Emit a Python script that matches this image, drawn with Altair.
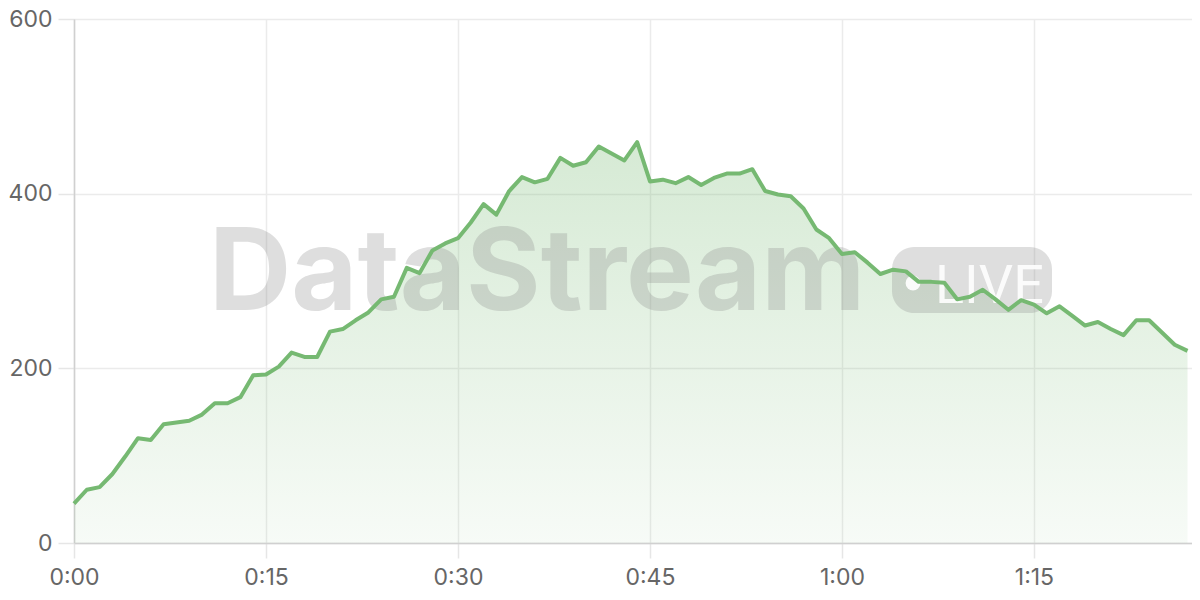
import altair as alt
import pandas as pd

minutes = list(range(88))
values = [45, 61, 64, 79, 99, 120, 118, 136, 138, 140,
          147, 160, 160, 167, 192, 193, 202, 218, 213, 213,
          242, 245, 255, 264, 279, 282, 315, 309, 335, 343,
          349, 367, 388, 376, 403, 419, 413, 417, 441, 432,
          436, 454, 446, 438, 459, 414, 416, 412, 419, 410,
          418, 423, 423, 428, 403, 399, 397, 383, 359, 349,
          331, 333, 321, 308, 313, 311, 299, 299, 298, 279,
          282, 290, 279, 267, 278, 273, 263, 271, 260, 249,
          253, 245, 238, 255, 255, 241, 227, 220]
x_ticks = [0, 15, 30, 45, 60, 75]
y_ticks = [0, 200, 400, 600]
watermark = "DataStream"
badge = "LIVE"

df = pd.DataFrame({"minute": minutes, "value": values})

FONT = "Inter"
GREEN = "#76b972"

x = alt.X("minute:Q", scale=alt.Scale(domain=[0, 87.35], nice=False, zero=False),
          axis=alt.Axis(values=x_ticks, title=None,
                        labelExpr="floor(datum.value/60) + ':' + (datum.value%60 < 10 ? '0' : '') + (datum.value%60)",
                        labelFont=FONT, labelFontSize=23, labelColor="#666666",
                        labelFlush=False, labelOverlap=False,
                        labelPadding=8, tickSize=15, tickColor="#e6e6e6", tickWidth=1.5,
                        gridColor="#ebebeb", gridWidth=1.5,
                        domainColor="#d0d0d0", domainWidth=1.5))
y = alt.Y("value:Q", scale=alt.Scale(domain=[0, 600], nice=False),
          axis=alt.Axis(values=y_ticks, title=None,
                        labelFont=FONT, labelFontSize=23, labelColor="#666666",
                        labelFlush=False, labelOverlap=False,
                        labelPadding=6, tickSize=16, tickColor="#e6e6e6", tickWidth=1.5,
                        gridColor="#ebebeb", gridWidth=1.5,
                        domainColor="#d0d0d0", domainWidth=1.5))

base = alt.Chart(df)

area = base.mark_area(
    color=alt.Gradient(
        gradient="linear",
        stops=[alt.GradientStop(color="rgba(118,185,114,0.30)", offset=0),
               alt.GradientStop(color="rgba(118,185,114,0.06)", offset=1)],
        x1=0, x2=0, y1=0, y2=1),
).encode(x=x, y=y)

wm_text = alt.Chart(pd.DataFrame({"t": [watermark]})).mark_text(
    font=FONT, fontSize=114, fontWeight="bold", color="#8a8a8a", opacity=0.28,
    align="left", baseline="alphabetic",
).encode(text="t:N", x=alt.value(135), y=alt.value(291))

badge_rect = alt.Chart(pd.DataFrame({"t": [badge]})).mark_rect(
    color="#8a8a8a", opacity=0.28, cornerRadius=22,
).encode(x=alt.value(818), x2=alt.value(978), y=alt.value(228), y2=alt.value(294))

badge_dot = alt.Chart(pd.DataFrame({"t": [badge]})).mark_point(
    shape="circle", filled=True, color="white", opacity=0.9, size=220,
).encode(x=alt.value(839), y=alt.value(264))

badge_text = alt.Chart(pd.DataFrame({"t": [badge]})).mark_text(
    font="Roboto", fontSize=54, color="white", opacity=0.9,
    align="left", baseline="alphabetic",
).encode(text="t:N", x=alt.value(861), y=alt.value(284))

line = base.mark_line(color=GREEN, strokeWidth=4, strokeJoin="round").encode(x=x, y=y)

chart = alt.layer(area, wm_text, badge_rect, badge_dot, badge_text, line).properties(
    width=1118, height=524,
    autosize=alt.AutoSizeParams(type="none"),
    padding={"left": 66, "top": 11, "right": 0, "bottom": 49},
).configure_view(stroke=None).configure(background="white")

chart.save("out.html", embed_options={"renderer": "svg", "actions": False})
